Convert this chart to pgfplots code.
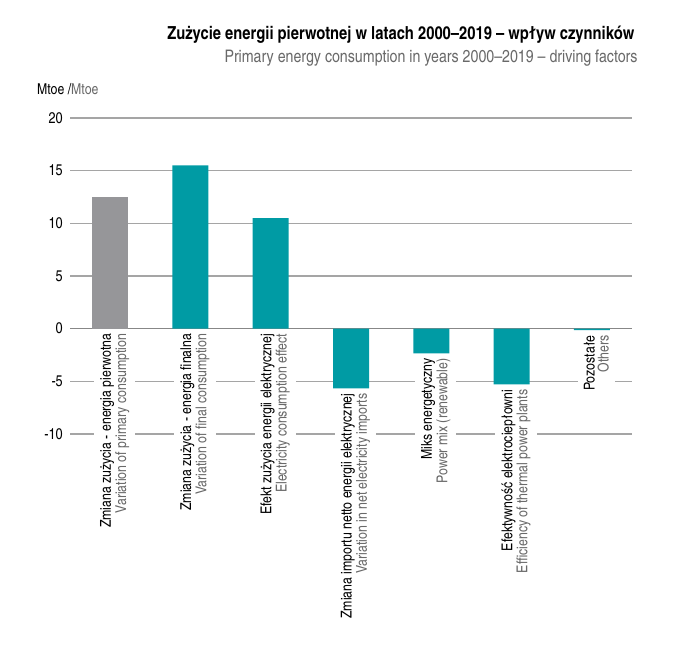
\documentclass[border=0pt]{standalone}
\usepackage{pgfplots}
\pgfplotsset{compat=1.18}
\usepackage{fontspec}
\setmainfont{texgyreheroscn}[Extension=.otf, UprightFont=*-regular, BoldFont=*-bold]
\definecolor{barteal}{RGB}{0,155,164}
\definecolor{bargray}{RGB}{150,150,153}
\definecolor{gridgray}{RGB}{165,165,165}
\definecolor{zerogray}{RGB}{135,135,135}
\definecolor{txtgray}{RGB}{105,105,105}
\newcommand{\lab}[2]{#1\\{\color{txtgray}#2}}
\begin{document}
\begin{tikzpicture}[x=1pt,y=1pt]
\useasboundingbox (0,0) rectangle (681,662);
\begin{axis}[at={(70pt,228pt)}, anchor=south west, scale only axis,
  width=562pt, height=316pt,
  xmin=-0.5, xmax=6.5, ymin=-10, ymax=20,
  ytick={-10,-5,0,5,10,15,20}, xtick=\empty,
  axis line style={draw=none}, major tick length=0pt,
  ymajorgrids, grid style={gridgray, line width=1.2pt},
  /pgf/number format/assume math mode=true,
  yticklabel style={font=\fontsize{15.5}{16}\selectfont, inner sep=0pt, anchor=east, xshift=-7pt},
  ybar, bar width=36pt,
  clip=false]
\draw[zerogray, line width=1.2pt] (axis cs:-0.5,0) -- (axis cs:6.5,0);
\addplot[fill=bargray, draw=none, bar shift=0pt] coordinates {(0,12.5)};
\addplot[fill=barteal, draw=none, bar shift=0pt] coordinates {(1,15.5) (2,10.5) (3,-5.67) (4,-2.35) (5,-5.3) (6,-0.15)};
\begin{scope}[every node/.style={rotate=90, anchor=east, align=right, fill=white,
   inner xsep=2pt, inner ysep=6pt, yshift=-4.5pt, xshift=-3pt,
   font=\fontsize{15}{14}\selectfont}]
\node at (axis cs:0,0) {\lab{Zmiana zużycia - energia pierwotna}{Variation of primary consumption}};
\node at (axis cs:1,0) {\lab{Zmiana zużycia - energia finalna}{Variation of final consumption}};
\node at (axis cs:2,0) {\lab{Efekt zużycia energii elektrycznej}{Electricity consumption effect}};
\node at (axis cs:3,-5.67) {\lab{Zmiana importu netto energii elektrycznej}{Variation in net electricity imports}};
\node at (axis cs:4,-2.35) {\lab{Miks energetyczny}{Power mix (renewable)}};
\node at (axis cs:5,-5.3) {\lab{Efektywność elektrociepłowni}{Efficiency of thermal power plants}};
\node at (axis cs:6,-0.15) {\lab{Pozostałe}{Others}};
\end{scope}
\end{axis}
\node[anchor=base east, font=\fontsize{18}{20}\selectfont\bfseries] at (638,622) {Zużycie energii pierwotnej w latach 2000–2019 – wpływ czynników};
\node[anchor=base east, font=\fontsize{17.3}{20}\selectfont, text=txtgray] at (641,599) {Primary energy consumption in years 2000–2019 – driving factors};
\node[anchor=base west, font=\fontsize{15}{16}\selectfont, inner sep=0pt] at (37,567) {Mtoe /{\color{txtgray}Mtoe}};
\end{tikzpicture}
\end{document}
